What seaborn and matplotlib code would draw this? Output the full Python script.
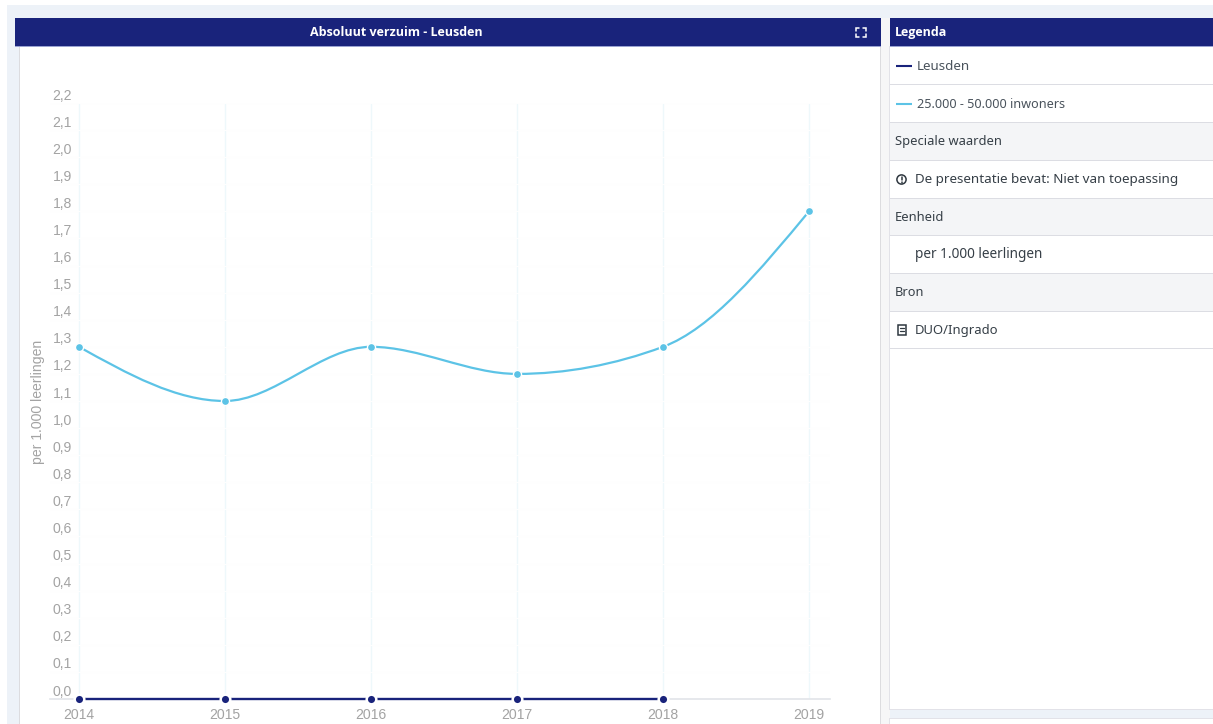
import numpy as np
import pandas as pd
import seaborn as sns
import matplotlib
matplotlib.use("Agg")
import matplotlib.pyplot as plt
import matplotlib.patheffects as pe
from matplotlib.path import Path
from matplotlib.patches import PathPatch, Rectangle, Circle
from matplotlib.transforms import ScaledTranslation

# Chart data
years = [2014, 2015, 2016, 2017, 2018, 2019]
leusden = [0.0, 0.0, 0.0, 0.0, 0.0, np.nan]
gemeenten = [1.3, 1.1, 1.3, 1.2, 1.3, 1.8]
y_ticks = [round(i * 0.1, 1) for i in range(23)]
y_labels = [f"{v:.1f}".replace(".", ",") for v in y_ticks]

# Text of the panels
chart_title = "Absoluut verzuim - Leusden"
legend_title = "Legenda"
y_title = "per 1.000 leerlingen"
serie_a = "Leusden"
serie_b = "25.000 - 50.000 inwoners"
legend_rows = [
    ("Speciale waarden", 141.5, 895, 9.3),
    ("De presentatie bevat: Niet van toepassing", 179.5, 915, 9.7),
    ("Eenheid", 217.5, 895, 9.3),
    ("per 1.000 leerlingen", 254.5, 915, 9.8),
    ("Bron", 292.5, 895, 9.2),
    ("DUO/Ingrado", 330.5, 915, 9.4),
]

NAVY = "#19237b"
BLUE = "#5cc3e6"
PAGE = "#edf2f8"
TICK = "#a3a3a3"
LEGEND_TEXT = "#4a535c"
UI_FONT = "Noto Sans"
BOLD_FONT = "Open Sans"
AXIS_FONT = "Liberation Sans"

W, H = 1213, 724
sns.set_theme(style="white")
fig = plt.figure(figsize=(W / 100, H / 100), dpi=100, facecolor="white")


def monotone_slopes(x, y):
    """Tangents of a monotone-x cubic through the points."""
    x, y = np.asarray(x, float), np.asarray(y, float)
    h = np.diff(x)
    s = np.diff(y) / h
    m = np.zeros_like(y)
    for i in range(1, len(y) - 1):
        p = (s[i - 1] * h[i] + s[i] * h[i - 1]) / (h[i - 1] + h[i])
        m[i] = (np.sign(s[i - 1]) + np.sign(s[i])) * min(abs(s[i - 1]), abs(s[i]), 0.5 * abs(p))
    m[0] = (3 * s[0] - m[1]) / 2
    m[-1] = (3 * s[-1] - m[-2]) / 2
    return m


def monotone_path(x, y):
    """Bezier path of the smoothed line."""
    m = monotone_slopes(x, y)
    verts, codes = [(x[0], y[0])], [Path.MOVETO]
    for i in range(len(x) - 1):
        d = (x[i + 1] - x[i]) / 3
        verts += [(x[i] + d, y[i] + m[i] * d), (x[i + 1] - d, y[i + 1] - m[i + 1] * d), (x[i + 1], y[i + 1])]
        codes += [Path.CURVE4] * 3
    return Path(verts, codes)


# Page furniture, drawn in pixel units
ui = fig.add_axes([0, 0, 1, 1], zorder=0)
ui.set_xlim(0, W)
ui.set_ylim(H, 0)
ui.axis("off")


def box(x0, y0, x1, y1, color, **kw):
    ui.add_patch(Rectangle((x0, y0), x1 - x0, y1 - y0, facecolor=color, edgecolor="none", **kw))


box(7, 5, W, H, PAGE)
box(19, 46, 881, H, "#dcdcdf")
box(20, 46, 880, H, "white")
box(881, 18, 890, H, "#f6f6f7")
box(889, 46, W, 710, "#e2e2e8")
box(890, 46, W, 709, "white")
box(889, 718, W, H, "#e2e2e8")
box(890, 719, W, H, "white")
box(15, 18, 881, 46, NAVY)
box(890, 18, W, 46, NAVY)
box(15, 46, 881, 47, "#9aa3d2")
box(890, 46, W, 47, "#9aa3d2")

# Legend rows
for top, bottom in [(122, 160), (198, 235), (273, 311)]:
    box(890, top, W, bottom, "#f4f5f7")
for sep in [84, 122, 160, 198, 235, 273, 311, 348]:
    box(890, sep - 0.5, W, sep + 0.5, "#dcdde3")

ui.text(396, 32, chart_title, color="white", fontsize=9.0, fontweight="bold",
        family=BOLD_FONT, ha="center", va="center")
ui.text(895, 32.5, legend_title, color="white", fontsize=9.0, fontweight="bold",
        family=BOLD_FONT, ha="left", va="center")

ui.plot([896, 912], [66, 66], color=NAVY, lw=1.5, solid_capstyle="butt")
ui.plot([896, 912], [104, 104], color=BLUE, lw=1.5, solid_capstyle="butt")
ui.text(917, 66.5, serie_a, color=LEGEND_TEXT, fontsize=9.6, family=UI_FONT, va="center")
ui.text(917, 104.5, serie_b, color=LEGEND_TEXT, fontsize=9.1, family=UI_FONT, va="center")
for label, y, x, size in legend_rows:
    ui.text(x, y, label, color="#363f47", fontsize=size, family=UI_FONT, va="center")

# Legend icons
ui.add_patch(Circle((901.5, 179.5), 4.6, facecolor="none", edgecolor="#2f3840", lw=1.1))
ui.plot([901.5, 901.5], [176.7, 180.2], color="#2f3840", lw=1.1)
ui.plot([901.5, 901.5], [181.5, 182.5], color="#2f3840", lw=1.1)
ui.add_patch(Rectangle((897.5, 325), 8.5, 10, facecolor="none", edgecolor="#2f3840", lw=1.1))
ui.plot([899.5, 904], [328, 328], color="#2f3840", lw=0.9)
ui.plot([899.5, 904], [330.5, 330.5], color="#2f3840", lw=0.9)

# Full-screen icon in the title bar
for cx, cy, dx, dy in [(856, 28, 1, 1), (866, 28, -1, 1), (856, 37, 1, -1), (866, 37, -1, -1)]:
    ui.plot([cx + 3 * dx, cx, cx], [cy, cy, cy + 3 * dy], color="white", lw=1.1, solid_joinstyle="miter")

# Chart area: 146 px per year, 271 px per unit
left_px, right_px, top_px, bottom_px = 50, 830, 103, 699
ax = fig.add_axes([left_px / W, 1 - bottom_px / H, (right_px - left_px) / W, (bottom_px - top_px) / H], zorder=1)
ax.patch.set_alpha(0)
ax.set_xlim(2014 - 29 / 146, 2014 + (right_px - 79) / 146)
ax.set_ylim(0, 2.2)
ax.set_xticks(years)
ax.set_xticklabels([str(y) for y in years])
ax.set_yticks(y_ticks)
ax.set_yticklabels(y_labels)

sns.despine(ax=ax, left=True, top=True, right=True)
ax.spines["bottom"].set_color("#e2e4e9")
ax.spines["bottom"].set_linewidth(1.2)
ax.grid(axis="x", color="#eef8fb", lw=1.0)
ax.grid(axis="y", color="#fefefe", lw=0.8)
ax.set_axisbelow(True)

ax.tick_params(axis="x", length=0, pad=6.5, labelsize=10.1, labelcolor=TICK)
ax.tick_params(axis="y", length=0, pad=-22 * 0.72, labelsize=10.1, labelcolor=TICK)
for lab in ax.get_xticklabels() + ax.get_yticklabels():
    lab.set_family(AXIS_FONT)
shift = ScaledTranslation(0, 9 / 100, fig.dpi_scale_trans)
for lab in ax.get_yticklabels():
    lab.set_transform(lab.get_transform() + shift)

ui.text(38, 402, y_title, rotation=90, color=TICK, fontsize=10.1, family=AXIS_FONT,
        ha="center", va="center")

frame = pd.DataFrame({"jaar": years, "Leusden": leusden, "Gemeenten": gemeenten})
halo = [pe.withStroke(linewidth=3.6, foreground="white")]

# Smoothed comparison series
curve = PathPatch(monotone_path(years, gemeenten), facecolor="none", edgecolor=BLUE, lw=1.6,
                  clip_on=False, zorder=3, path_effects=halo)
ax.add_patch(curve)
sns.scatterplot(data=frame, x="jaar", y="Gemeenten", ax=ax, color=BLUE, s=34,
                edgecolor="white", linewidth=1.0, clip_on=False, zorder=4, legend=False)

# Municipality series, with gaps around the dots from their white edge
sns.lineplot(data=frame.dropna(), x="jaar", y="Leusden", ax=ax, color=NAVY, lw=1.7,
             clip_on=False, zorder=5, legend=False, errorbar=None)
sns.scatterplot(data=frame.dropna(), x="jaar", y="Leusden", ax=ax, color=NAVY, s=48,
                edgecolor="white", linewidth=1.8, clip_on=False, zorder=6, legend=False)

ax.set_xlabel("")
ax.set_ylabel("")

fig.savefig("out.png", dpi=100)
